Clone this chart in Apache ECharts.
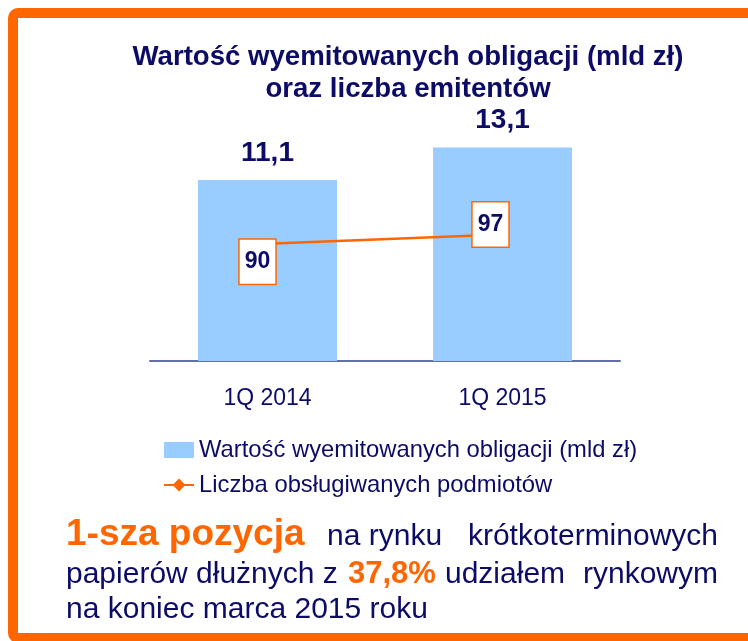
<!DOCTYPE html>
<html>
<head>
<meta charset="utf-8">
<script src="https://cdn.jsdelivr.net/npm/echarts@6/dist/echarts.min.js"></script>
<style>
  html, body { margin: 0; padding: 0; background: #fff; }
  #chart { width: 748px; height: 641px; }
</style>
</head>
<body>
<div id="chart"></div>
<script>
const categories = ['1Q 2014', '1Q 2015'];
const bondValues = [11.1, 13.1];
const issuerCounts = [90, 97];
const barName = 'Wartość wyemitowanych obligacji (mld zł)';
const lineName = 'Liczba obsługiwanych podmiotów';
const titleLines = ['Wartość wyemitowanych obligacji (mld zł)', 'oraz liczba emitentów'];

const NAVY = '#0C0C66';
const ORANGE = '#FF6600';
const FONT = '"Liberation Sans", Arial, sans-serif';

const chart = echarts.init(document.getElementById('chart'));

function txt(text, x, y, size, color, bold, align) {
    return {
        type: 'text',
        x: x,
        y: y,
        style: {
            text: text,
            font: (bold ? 'bold ' : '') + size + 'px ' + FONT,
            fill: color,
            align: align || 'left',
            verticalAlign: 'middle',
            textAlign: align || 'left',
            textVerticalAlign: 'middle'
        }
    };
}

const option = {
    backgroundColor: '#fff',
    animation: false,
    textStyle: { fontFamily: FONT },
    grid: { left: 150, right: 128, top: 35, bottom: 280 },
    xAxis: {
        type: 'category',
        data: categories,
        axisLine: { lineStyle: { color: '#646EAE', width: 2 } },
        axisTick: { show: false },
        axisLabel: { color: NAVY, fontSize: 23, margin: 26 }
    },
    yAxis: [
        { type: 'value', min: 0, max: 20, show: false },
        { type: 'value', min: 0, max: 250, show: false }
    ],
    legend: {
        orient: 'vertical',
        left: 163,
        top: 438,
        padding: 0,
        itemWidth: 30,
        itemHeight: 16,
        itemGap: 11,
        textStyle: { color: NAVY, fontSize: 23.8, lineHeight: 24 },
        data: [{ name: barName, icon: 'rect' }, { name: lineName }]
    },
    series: [
        {
            name: barName,
            type: 'bar',
            data: bondValues,
            barWidth: 139,
            itemStyle: { color: '#99CCFF' },
            label: {
                show: true,
                position: 'top',
                distance: 13,
                color: NAVY,
                fontSize: 28,
                fontWeight: 'bold',
                formatter: p => p.value.toFixed(1).replace('.', ',')
            }
        },
        {
            name: lineName,
            type: 'line',
            yAxisIndex: 1,
            data: issuerCounts.map((v, i) => ({
                value: v,
                label: { offset: i === 0 ? [-10, 18] : [-12, -10] }
            })),
            symbol: 'diamond',
            symbolSize: 8,
            itemStyle: { color: ORANGE },
            lineStyle: { color: ORANGE, width: 2.5 },
            label: {
                show: true,
                position: 'inside',
                color: NAVY,
                fontSize: 23,
                fontWeight: 'bold',
                lineHeight: 21,
                backgroundColor: '#fff',
                borderColor: ORANGE,
                borderWidth: 1.5,
                padding: [12, 5, 11, 5]
            }
        }
    ],
    graphic: [
        {
            type: 'rect',
            shape: { x: 13, y: 13, width: 800, height: 625, r: 5 },
            style: { fill: null, stroke: ORANGE, lineWidth: 10 },
            z: 10
        },
        txt(titleLines[0], 408, 57, 27.6, NAVY, true, 'center'),
        txt(titleLines[1], 408, 89, 27.6, NAVY, true, 'center'),
        txt('1-sza pozycja', 66, 535, 37, ORANGE, true),
        txt('na rynku', 327, 537, 30, NAVY, false),
        txt('krótkoterminowych', 718, 537, 30, NAVY, false, 'right'),
        txt('papierów dłużnych z', 66, 575, 30, NAVY, false),
        txt('37,8%', 348, 574, 31, ORANGE, true),
        txt('udziałem', 445, 575, 30, NAVY, false),
        txt('rynkowym', 718, 575, 30, NAVY, false, 'right'),
        txt('na koniec marca 2015 roku', 66, 610, 30, NAVY, false)
    ]
};

chart.setOption(option);
</script>
</body>
</html>
